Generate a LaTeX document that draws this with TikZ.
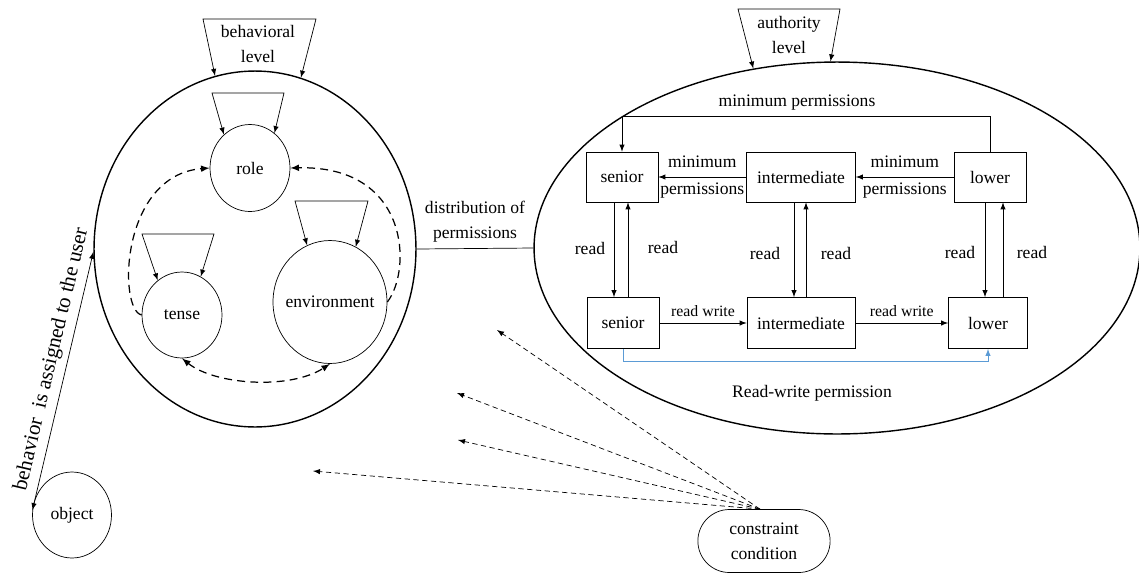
\documentclass[tikz,border=0pt]{standalone}
\usepackage{fontspec}
\setmainfont{Liberation Serif}
\usetikzlibrary{positioning,shapes,arrows}
\definecolor{rwblue}{RGB}{91,155,213}

\begin{document}
\begin{tikzpicture}[
		  x=0.02cm, y=-0.02cm,
		  font=\fontsize{10}{14.5}\selectfont,
		  bignode/.style={draw,ellipse,line width=0.8pt},
		  circnode/.style={draw,ellipse,inner sep=0pt},
		  boxnode/.style={draw,rectangle,minimum height=1cm,minimum width=1.44cm},
		  dashline/.style={dash pattern=on 4.5pt off 3pt,line width=0.7pt},
		  hint/.style={densely dashed,line width=0.4pt,-latex}
		]
		\useasboundingbox (0,0) rectangle (1139,572);
		% behavioral level
		\node[bignode, minimum width=6.44cm, minimum height=7.12cm] (behav) at (255,249) {};
		\node[align=center] (blvl) at (258,44) {behavioral\\level};
		\draw[latex-latex] (behav.103) -- (203,19) -- (316,19) -- (behav.75);
		\node[circnode, minimum width=1.6cm, minimum height=1.74cm] (role) at (250,168) {role};
		\node[circnode, minimum width=1.6cm, minimum height=1.72cm] (tense) at (182,315) {tense};
		\node[circnode, minimum width=2.28cm, minimum height=2.46cm, label=center:environment] (env) at (330,302) {};
		\draw[latex-latex] (role.128) -- (212,93) -- (284,93) -- (role.55);
		\draw[latex-latex] (tense.125) -- (142,234) -- (214,234) -- (tense.64);
		\draw[latex-latex] (env.112) -- (295,201) -- (368,201) -- (env.65);
		\draw[dashline,-latex] (tense.west) .. controls (118,310) and (120,175) .. (role.west);
		\draw[dashline,-latex] (env.east) .. controls (412,270) and (410,165) .. (role.east);
		\draw[dashline,latex-latex] (tense.south) .. controls (215,385) and (290,390) .. (env.south);
		% object
		\node[circnode, minimum width=1.58cm, minimum height=1.72cm] (obj) at (72,515) {object};
		\draw[latex-latex] (obj.173) -- node[sloped,above,pos=0.57,font=\fontsize{12}{14}\selectfont] (asg) {behavior\ \ is assigned to the user} (behav.181);
		% authority level
		\node[bignode, minimum width=12.12cm, minimum height=7.44cm] (auth) at (837,248) {};
		\node[align=center] (alvl) at (789,35) {authority\\level};
		\draw[latex-latex] (auth.115) -- (738,9) -- (840,9) -- (auth.92);
		\draw (behav.east) -- node[above,align=center] (dist) {distribution of\\permissions} (auth.west);
		\node[boxnode] (sen1) at (622,177) {senior};
		\node[boxnode, minimum width=2.18cm] (mid1) at (801,177) {intermediate};
		\node[boxnode] (low1) at (990,177) {lower};
		\node[boxnode, minimum height=1.02cm] (sen2) at (623,323) {senior};
		\node[boxnode, minimum height=1.02cm, minimum width=2.16cm] (mid2) at (801,323) {intermediate};
		\node[boxnode, minimum height=1.02cm, minimum width=1.58cm] (low2) at (988,323) {lower};
		\draw[-latex] (mid1.west) -- node[align=center] (mp1) {minimum\\[1pt]permissions} (sen1.east);
		\draw[-latex] (low1.west) -- node[align=center] (mp2) {minimum\\[1pt]permissions} (mid1.east);
		\draw[-latex] (low1.north) -- ++(0,-35) -| (sen1.north);
		\node (mp3) at (797,103) {minimum permissions};
		\draw[-latex] ([xshift=-0.16cm]sen1.south) -- ([xshift=-0.16cm]sen1.south |- sen2.north);
		\draw[-latex] ([xshift=0.12cm]sen1.south |- sen2.north) -- ([xshift=0.12cm]sen1.south);
		\draw[-latex] ([xshift=-0.14cm]mid1.south) -- ([xshift=-0.14cm]mid1.south |- mid2.north);
		\draw[-latex] ([xshift=0.1cm]mid1.south |- mid2.north) -- ([xshift=0.1cm]mid1.south);
		\draw[-latex] ([xshift=-0.1cm]low1.south) -- ([xshift=-0.1cm]low1.south |- low2.north);
		\draw[-latex] ([xshift=0.26cm]low1.south |- low2.north) -- ([xshift=0.26cm]low1.south);
		\node (rd1) at (590,248) {read};
		\node (rd2) at (663,247) {read};
		\node (rd3) at (765,253) {read};
		\node (rd4) at (836,253) {read};
		\node (rd5) at (960,252) {read};
		\node (rd6) at (1032,252) {read};
		\draw[-latex] (sen2.east) -- node[above,font=\fontsize{9}{11}\selectfont] (rw1) {read write} (mid2.west);
		\draw[-latex] (mid2.east) -- node[above,font=\fontsize{9}{11}\selectfont] (rw2) {read write} (low2.west);
		\draw[-latex, rwblue] (sen2.south) -- ++(0,12) -| (low2.south);
		\node (rwp) at (812,393) {Read-write permission};
		% constraint condition
		\node[draw, rounded rectangle, minimum width=2.88cm, minimum height=1.26cm, align=center] (con) at (764,541) {constraint\\condition};
		\coordinate (c1) at (497,330);
		\coordinate (c2) at (457,393);
		\coordinate (c3) at (458,440);
		\coordinate (c4) at (313,471);
		\draw[hint] ([xshift=-0.08cm]con.north) -- (c1);
		\draw[hint] ([xshift=-0.08cm]con.north) -- (c2);
		\draw[hint] ([xshift=-0.08cm]con.north) -- (c3);
		\draw[hint] ([xshift=-0.08cm]con.north) -- (c4);
		\end{tikzpicture}
\end{document}
